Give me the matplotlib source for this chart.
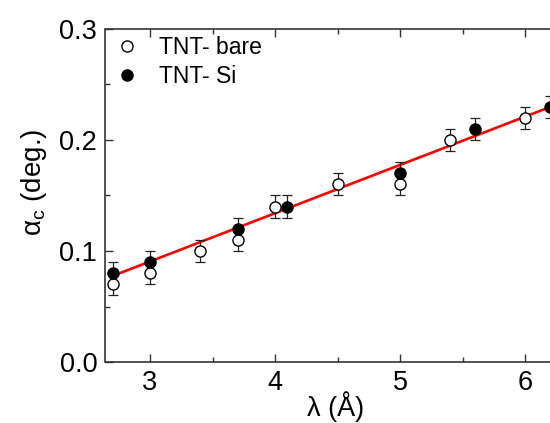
import matplotlib
matplotlib.use("Agg")
import matplotlib.pyplot as plt
from matplotlib.ticker import MultipleLocator

plt.rcParams['font.family'] = ['Liberation Sans', 'DejaVu Sans']
plt.rcParams['mathtext.fontset'] = 'custom'
plt.rcParams['mathtext.rm'] = 'Liberation Sans'
plt.rcParams['mathtext.it'] = 'Liberation Sans:italic'

# data
bare_x = [2.7, 3.0, 3.4, 3.7, 4.0, 4.5, 5.0, 5.4, 6.0]
bare_y = [0.07, 0.08, 0.10, 0.11, 0.14, 0.16, 0.16, 0.20, 0.22]
si_x = [2.7, 3.0, 3.7, 4.1, 5.0, 5.6, 6.2]
si_y = [0.08, 0.09, 0.12, 0.14, 0.17, 0.21, 0.23]
err = 0.01
fit_x = [2.7, 6.25]
fit_y = [0.0775, 0.2319]
x_ticks = [3, 4, 5, 6]
y_ticks = [0.0, 0.1, 0.2, 0.3]

W, H = 550, 423
fig = plt.figure(figsize=(W / 100, H / 100), dpi=100)
xmin, xmax = 2.644, 6.25
unit = 125.0
left = 105.5 / W
width = (xmax - xmin) * unit / W
bottom = (H - 362) / H
height = (362 - 29) / H
ax = fig.add_axes([left, bottom, width, height])

ax.plot(fit_x, fit_y, color='#ff0000', lw=1.9, zorder=2, clip_on=False)

ms = 8
ax.errorbar(bare_x, bare_y, yerr=err, fmt='none', ecolor='#222222',
            elinewidth=0.9, capsize=3.5, capthick=0.9, zorder=3)
ax.errorbar(si_x, si_y, yerr=err, fmt='none', ecolor='#222222',
            elinewidth=0.9, capsize=3.5, capthick=0.9, zorder=3)
ax.plot(bare_x, bare_y, 'o', mfc='white', mec='black', mew=1.0, ms=ms,
        label='TNT- bare', zorder=4)
ax.plot(si_x, si_y, 'o', mfc='black', mec='black', mew=1.0, ms=ms,
        label='TNT- Si', zorder=4)

ax.set_xlim(xmin, xmax)
ax.set_ylim(0, 0.3)
ax.set_xticks(x_ticks)
ax.set_yticks(y_ticks)
ax.set_yticklabels([f"{v:.1f}" for v in y_ticks])
ax.xaxis.set_minor_locator(MultipleLocator(0.5))
ax.yaxis.set_minor_locator(MultipleLocator(0.05))
ax.tick_params(which='both', direction='in', top=True, right=False,
               labelsize=19.5, width=1.0, color='#333333')
ax.tick_params(which='major', length=6, pad=6)
ax.tick_params(which='minor', length=3.5)
for s in ['left', 'bottom', 'top']:
    ax.spines[s].set_linewidth(1.2)
    ax.spines[s].set_color('#333333')
ax.spines['right'].set_visible(False)

fig.text(336 / W, 1 - 416 / H, 'λ (Å)', fontsize=19.5,
         ha='center', va='baseline')
fig.text(34 / W, 1 - 182 / H, 'α$_{\\rm c}$ (deg.)', fontsize=20,
         rotation=90, ha='center', va='center')

ax.legend(loc='upper left', frameon=False, fontsize=16.5,
          handletextpad=0.75, borderaxespad=0.25, labelspacing=0.25,
          handlelength=1.3, borderpad=0.3,
          bbox_to_anchor=(-0.014, 1.016))

fig.savefig('out.png', dpi=100)
